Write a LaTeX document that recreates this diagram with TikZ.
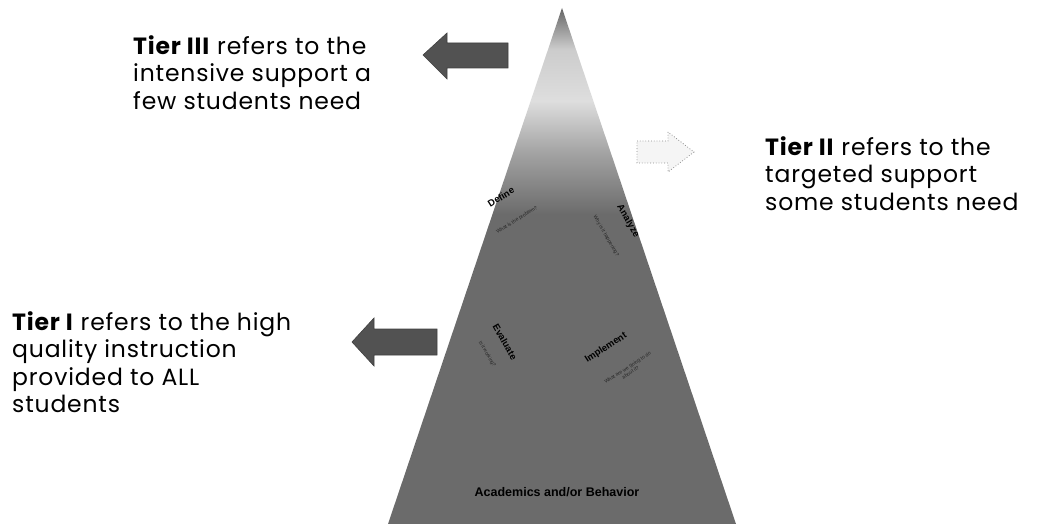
\documentclass[tikz,border=0pt]{standalone}
\usepackage{fontspec}
\setmainfont{Poppins}[LetterSpace=3.5]
\newfontfamily\lblfont{Liberation Sans}
\pgfdeclareverticalshading{tri}{100bp}{color(0bp)=(black!58); color(55bp)=(black!58); color(61bp)=(black!36); color(66bp)=(black!13); color(71bp)=(black!20); color(75bp)=(black!60); color(100bp)=(black!60)}
\tikzset{
  tiertext/.style={anchor=north west, align=left, inner sep=0pt, font=\fontsize{23.5}{27.6}\selectfont, text=black},
  darrow/.style={fill=black!68, draw=black!75, line width=0.6pt},
  larrow/.style={fill=black!4, draw=black!45, dotted, line width=0.8pt},
  steplbl/.style={inner sep=0pt, font=\lblfont\bfseries\fontsize{9.5}{10}\selectfont, text=black},
  stepsub/.style={inner sep=0pt, font=\lblfont\fontsize{5}{5.5}\selectfont, text=black!85, align=center},
}
\begin{document}
\begin{tikzpicture}[x=1pt,y=-1pt]
\useasboundingbox (0,0) rectangle (1037,524);
% pyramid
\shade[shading=tri] (562,8) -- (736,524) -- (388,524) -- cycle;
\coordinate (apex) at (562,8);
% arrows
\draw[darrow] (423,55) -- (447,33) -- (447,43) -- (508,43) -- (508,68) -- (447,68) -- (447,79) -- cycle;
\draw[darrow] (352,342) -- (374,318) -- (374,329) -- (437,329) -- (437,355) -- (374,355) -- (374,366) -- cycle;
\draw[larrow] (637,141) -- (668,141) -- (668,132) -- (694,152) -- (668,172) -- (668,163) -- (637,163) -- cycle;
% texts
\node[tiertext] (t3) at (133,35) {\textbf{Tier III} refers to the\\intensive support a\\few students need};
\node[tiertext] (t2) at (765,136) {\textbf{Tier II} refers to the\\targeted support\\some students need};
\node[tiertext] (t1) at (12,311) {\textbf{Tier I} refers to the high\\quality instruction\\provided to ALL\\students};
% cycle labels
\node[steplbl, rotate=32] (def) at (501,197) {Define};
\node[stepsub, rotate=32] (defs) at (517,220) {What is the problem?};
\node[steplbl, rotate=-60] (ana) at (628,221) {Analyze};
\node[stepsub, rotate=-60] (anas) at (606,236) {Why is it happening?};
\node[steplbl, rotate=-60] (eva) at (505,342) {Evaluate};
\node[stepsub, rotate=-60] (evas) at (487,354) {Is it working?};
\node[steplbl, rotate=33] (imp) at (606,348) {Implement};
\node[stepsub, rotate=33] (imps) at (629,370) {What are we going to do\\about it?};
\node[inner sep=0pt, font=\lblfont\bfseries\fontsize{12.5}{13}\selectfont] (ab) at (557,492) {Academics and/or Behavior};
\end{tikzpicture}
\end{document}
